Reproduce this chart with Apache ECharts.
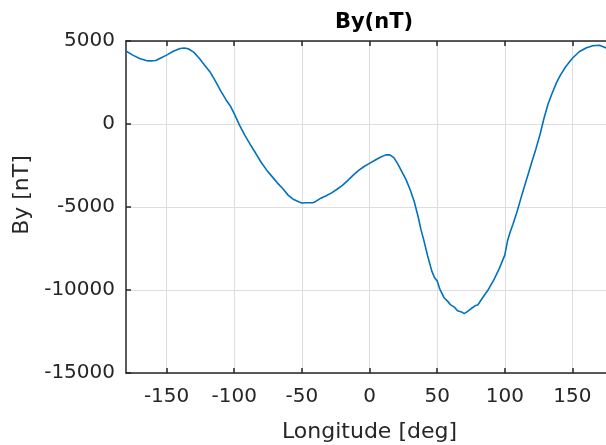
<!DOCTYPE html>
<html>
<head>
<meta charset="utf-8">
<script src="https://cdn.jsdelivr.net/npm/echarts@6/dist/echarts.min.js"></script>
<style>
  html, body { margin: 0; padding: 0; background: #fff; overflow: hidden; }
  #chart { width: 606px; height: 445px; }
</style>
</head>
<body>
<div id="chart"></div>
<script>
  // longitude [deg] and By [nT]
  const longitudes = [-180, -175, -170, -165, -162, -158, -155, -150, -145, -140, -137, -134, -130, -126, -122, -118, -114, -110, -106, -103,
    -100, -96, -92, -88, -84, -80, -76, -72, -68, -64, -60, -56, -52, -50, -46, -42, -40, -36, -32, -28,
    -24, -20, -16, -12, -8, -4, 0, 4, 8, 12, 15, 18, 21, 24, 27, 30, 33, 36, 38, 40,
    43, 46, 48, 50, 52, 55, 58, 60, 63, 65, 68, 70, 72, 75, 78, 80, 84, 88, 92, 96,
    100, 102, 104, 106, 109, 112, 114, 117, 120, 123, 126, 129, 132, 135, 138, 141, 145, 150, 155, 160,
    165, 170, 175, 180]
  const byValues = [4400, 4150, 3950, 3820, 3800, 3830, 3950, 4150, 4380, 4550, 4580, 4530, 4330, 3980, 3560, 3150, 2600, 2000, 1450, 1100,
    630, -80, -700, -1260, -1780, -2320, -2780, -3170, -3560, -3900, -4300, -4550, -4700, -4760, -4740, -4740, -4680, -4470, -4320, -4150,
    -3930, -3700, -3400, -3080, -2800, -2560, -2370, -2180, -2000, -1860, -1860, -2030, -2420, -2880, -3350, -3950, -4650, -5600, -6350, -6950,
    -7950, -8850, -9250, -9450, -9950, -10450, -10700, -10900, -11050, -11250, -11320, -11420, -11320, -11130, -10950, -10900, -10420, -9950, -9380, -8700,
    -7900, -7050, -6500, -6050, -5300, -4450, -3900, -3100, -2290, -1500, -650, 350, 1200, 1850, 2450, 2930, 3450, 3960, 4350, 4580,
    4710, 4740, 4580, 4350]
  const xTicks = [-150, -100, -50, 0, 50, 100, 150]

  const font = 'DejaVu Sans'
  const axisColor = '#262626'
  const gridColor = '#dedede'

  const chart = echarts.init(document.getElementById('chart'))
  const lineData = longitudes.map((lon, i) => [lon, byValues[i]])

  const option = {
    animation: false,
    title: {
      text: 'By(nT)',
      left: 369,
      top: 7,
      textAlign: 'center',
      textStyle: {fontFamily: font, fontSize: 21, fontWeight: 'bold', color: '#000'}
    },
    grid: {
      left: 126,
      top: 41,
      width: 487, // runs ~7px past the right edge, like the original
      height: 332,
      outerBoundsMode: 'none',
      containLabel: false
    },
    xAxis: [{
      type: 'value',
      position: 'bottom',
      min: -180,
      max: 180,
      name: 'Longitude [deg]',
      nameLocation: 'middle',
      nameGap: 48,
      nameTextStyle: {fontFamily: font, fontSize: 22, color: axisColor},
      axisLine: {onZero: false, lineStyle: {color: axisColor, width: 1.5}},
      axisTick: {inside: true, length: 5, customValues: xTicks, lineStyle: {color: axisColor, width: 1.5}},
      axisLabel: {customValues: xTicks, margin: 14, fontFamily: font, fontSize: 20, color: axisColor},
      splitLine: {show: true, lineStyle: {color: gridColor, width: 1}}
    }, {
      type: 'value',
      position: 'top',
      min: -180,
      max: 180,
      axisLine: {onZero: false, lineStyle: {color: axisColor, width: 1.5}},
      axisTick: {inside: true, length: 5, customValues: xTicks, lineStyle: {color: axisColor, width: 1.5}},
      axisLabel: {show: false},
      splitLine: {show: false}
    }],
    yAxis: {
      type: 'value',
      min: -15000,
      max: 5000,
      interval: 5000,
      name: 'By [nT]',
      nameLocation: 'middle',
      nameGap: 81,
      nameTextStyle: {fontFamily: font, fontSize: 22, color: axisColor, padding: [0, 0, 0, 24]},
      axisLine: {show: true, onZero: false, lineStyle: {color: axisColor, width: 1.5}},
      axisTick: {show: true, inside: true, length: 5, lineStyle: {color: axisColor, width: 1.5}},
      axisLabel: {margin: 11, fontFamily: font, fontSize: 20, color: axisColor, formatter: v => String(v)},
      splitLine: {show: true, lineStyle: {color: gridColor, width: 1}}
    },
    series: [{
      type: 'line',
      data: lineData,
      showSymbol: false,
      smooth: false,
      lineStyle: {color: '#0072BD', width: 1.6},
      z: 3
    }]
  }
  chart.setOption(option)
</script>
</body>
</html>
